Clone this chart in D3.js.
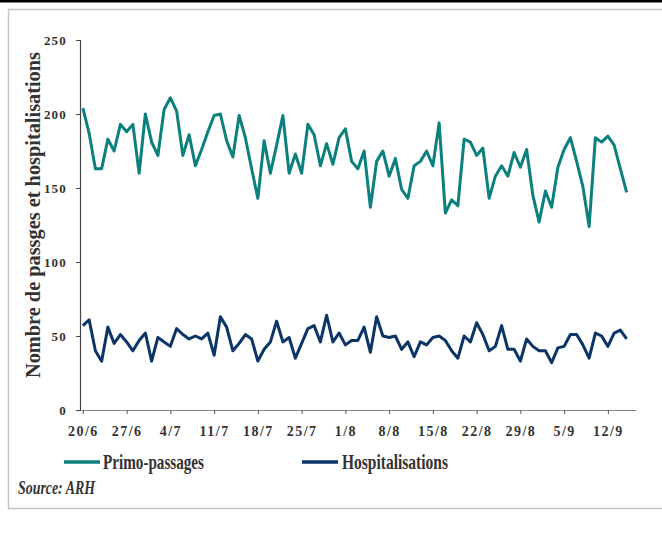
<!DOCTYPE html>
<html><head><meta charset="utf-8">
<script src="https://cdn.jsdelivr.net/npm/d3@7"></script>
<style>body{margin:0;background:#fff}svg{display:block}</style>
</head><body>
<svg id="c" width="662" height="539"></svg>
<script>
const tickLabels = ["20/6","27/6","4/7","11/7","18/7","25/7","1/8","8/8","15/8","22/8","29/8","5/9","12/9"];
const yTicks = [0,50,100,150,200,250];
const primo = [204,187,163,163,183,175,193,188,193,160,200,181,172,203,211,202,172,186,165,176,188,199,200,182,171,199,184,163,143,182,160,179,199,160,173,160,193,186,165,180,166,184,190,168,163,175,137,168,175,158,170,149,143,165,168,175,165,194,133,142,138,183,181,172,177,143,158,165,158,174,164,176,145,127,148,137,164,176,184,168,151,124,184,181,185,179,163,147];
const hosp = [57,61,40,33,56,45,51,46,40,47,52,33,49,46,43,55,51,48,50,48,52,37,63,56,40,45,51,48,33,41,46,60,46,49,35,45,55,57,46,64,46,52,44,47,47,56,39,63,50,49,50,41,46,36,46,44,49,50,47,40,35,50,46,59,51,40,43,57,41,41,33,48,43,40,40,32,42,43,51,51,44,35,52,50,43,52,54,48];
const seriesNames = ["Primo-passages","Hospitalisations"];
const colors = ["#0b807c","#0b3566"];

const svg = d3.select("#c");
svg.append("rect").attr("x",0).attr("y",0).attr("width",662).attr("height",2.5).attr("fill","#000");
svg.append("rect").attr("x",8.5).attr("y",9.5).attr("width",700).attr("height",499)
  .attr("fill","none").attr("stroke","#c4c4c4").attr("stroke-width",1.5);

const x = d3.scaleLinear().domain([-0.3, 88.5]).range([81, 636]);
const y = d3.scaleLinear().domain([0, 250]).range([410, 40]);

// y axis
const yAxis = svg.append("g").attr("transform","translate(80,0)")
  .call(d3.axisLeft(y).tickValues(yTicks).tickSize(4).tickPadding(9));
yAxis.select(".domain").attr("stroke","#444").attr("stroke-width",1.2);
yAxis.selectAll(".tick line").attr("stroke","#444");
yAxis.selectAll("text").attr("font-family","Liberation Serif").attr("font-weight","bold")
  .attr("font-size",13).attr("letter-spacing","1.2px").attr("fill","#333");

// x axis
const tickIdx = tickLabels.map((d,i)=>i*7);
const xAxis = svg.append("g").attr("transform","translate(0,410)")
  .call(d3.axisBottom(x).tickValues(tickIdx).tickFormat((d,i)=>tickLabels[i]).tickSize(4).tickSizeOuter(0).tickPadding(12));
xAxis.select(".domain").attr("stroke","#888").attr("stroke-width",1.2);
xAxis.selectAll(".tick line").attr("stroke","#555");
xAxis.selectAll("text").attr("font-family","Liberation Serif").attr("font-weight","bold")
  .attr("font-size",14).attr("letter-spacing","1.5px").attr("fill","#333");

// y title
svg.append("text").attr("transform","translate(40,215) rotate(-90)")
  .attr("text-anchor","middle").attr("font-family","Liberation Serif").attr("font-weight","bold")
  .attr("font-size",20).attr("fill","#333").attr("textLength",326).attr("lengthAdjust","spacingAndGlyphs")
  .text("Nombre de passges et hospitalisations");

const line = d3.line().x((d,i)=>x(i)).y(d=>y(d));
[primo,hosp].forEach((s,k)=>{
  svg.append("path").datum(s).attr("d",line).attr("fill","none")
    .attr("stroke",colors[k]).attr("stroke-width",3).attr("stroke-linejoin","round");
});

// legend
const leg = [{x1:64,x2:100,tx:103,w:101},{x1:302,x2:338,tx:342,w:106}];
leg.forEach((l,k)=>{
  svg.append("line").attr("x1",l.x1).attr("x2",l.x2).attr("y1",462).attr("y2",462)
    .attr("stroke",colors[k]).attr("stroke-width",3.5);
  svg.append("text").attr("x",l.tx).attr("y",469).attr("font-family","Liberation Serif")
    .attr("font-weight","bold").attr("font-size",21).attr("fill","#333")
    .attr("textLength",l.w).attr("lengthAdjust","spacingAndGlyphs").text(seriesNames[k]);
});
svg.append("text").attr("x",18).attr("y",494).attr("font-family","Liberation Serif")
  .attr("font-weight","bold").attr("font-style","italic").attr("font-size",19).attr("fill","#333")
  .attr("textLength",77).attr("lengthAdjust","spacingAndGlyphs").text("Source: ARH");
</script>
</body></html>
